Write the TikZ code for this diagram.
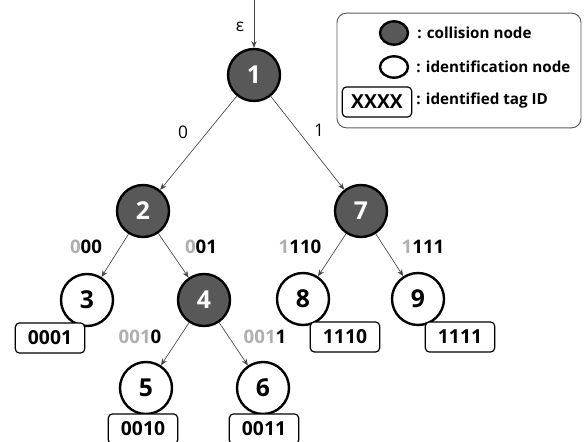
\documentclass[tikz,border=0pt]{standalone}
\usepackage{fontspec}
\setmainfont{Open Sans}
\usetikzlibrary{arrows.meta,shapes.geometric}
\definecolor{collfill}{RGB}{88,88,88}
\definecolor{pref}{RGB}{175,175,175}
\definecolor{edgec}{RGB}{70,70,70}
\begin{document}
\begin{tikzpicture}[x=0.75pt,y=-0.75pt,
  coll/.style={circle,draw=black,line width=1.8pt,fill=collfill,minimum size=39pt,inner sep=0pt,text=white,font=\fontsize{18.5}{18.5}\selectfont\bfseries},
  ident/.style={circle,draw=black,line width=1.8pt,fill=white,minimum size=39pt,inner sep=0pt,font=\fontsize{18.5}{18.5}\selectfont\bfseries},
  tagbox/.style={draw=black,line width=0.9pt,rounded corners=3pt,fill=white,minimum width=52pt,minimum height=22.5pt,inner sep=0pt,font=\fontsize{14.5}{14.5}\selectfont\bfseries},
  edge/.style={draw=edgec,line width=0.5pt,-{Stealth[length=5pt,width=4pt]}},
  elab/.style={font=\fontsize{14}{14}\selectfont\bfseries,inner sep=0pt},
  tlab/.style={font=\fontsize{13}{13}\selectfont,inner sep=0pt},
  legtext/.style={font=\fontsize{11.4}{11.4}\selectfont\bfseries,inner sep=0pt,anchor=west}
]
\useasboundingbox (0,0) rectangle (585,442);
% legend
\node[draw=black!65,line width=0.7pt,rounded corners=7pt,minimum width=183pt,minimum height=86pt,inner sep=0pt] (leg) at (459,70.5) {};
\node[ellipse,draw=black,line width=1.8pt,fill=collfill,minimum width=21pt,minimum height=17.5pt,inner sep=0pt] (lc) at (394,33) {};
\node[legtext] (lct) at (417,33) {: collision node};
\node[ellipse,draw=black,line width=1.8pt,fill=white,minimum width=21pt,minimum height=16pt,inner sep=0pt] (li) at (394,67) {};
\node[legtext] (lit) at (416,67) {: identification node};
\node[tagbox] (lx) at (377,102) {XXXX};
\node[legtext] (lxt) at (416,101) {: identified tag ID};
% tree nodes
\node[coll] (n1) at (254,75) {1};
\node[coll] (n2) at (143,211) {2};
\node[coll] (n7) at (361,211) {7};
\node[ident] (n3) at (87,300) {3};
\node[coll] (n4) at (204,300) {4};
\node[ident] (n8) at (303,299) {8};
\node[ident] (n9) at (418,299) {9};
\node[ident] (n5) at (146,388) {5};
\node[ident] (n6) at (263,388) {6};
% tag boxes
\node[tagbox] (b3) at (50,338) {0001};
\node[tagbox] (b8) at (345,337) {1110};
\node[tagbox] (b9) at (460,337) {1111};
\node[tagbox] (b5) at (143,429) {0010};
\node[tagbox] (b6) at (264,429) {0011};
% entry arrow
\coordinate (top) at (254,0);
\draw[edge] (top) -- (n1);
\node[tlab] (eps) at (240,27) {ε};
% edges
\draw[edge] (n1) -- (n2);
\draw[edge] (n1) -- (n7);
\draw[edge] (n2) -- (n3);
\draw[edge] (n2) -- (n4);
\draw[edge] (n7) -- (n8);
\draw[edge] (n7) -- (n9);
\draw[edge] (n4) -- (n5);
\draw[edge] (n4) -- (n6);
% labels
\node[tlab] (l0) at (183,132) {0};
\node[tlab] (l1) at (319,130) {1};
\node[elab] (l000) at (86,247) {\textcolor{pref}{0}00};
\node[elab] (l001) at (201,247) {\textcolor{pref}{0}01};
\node[elab] (l1110) at (300,247) {\textcolor{pref}{1}110};
\node[elab] (l1111) at (423,247) {\textcolor{pref}{1}111};
\node[elab] (l0010) at (140,337) {\textcolor{pref}{001}0};
\node[elab] (l0011) at (265,337) {\textcolor{pref}{001}1};
\end{tikzpicture}
\end{document}
